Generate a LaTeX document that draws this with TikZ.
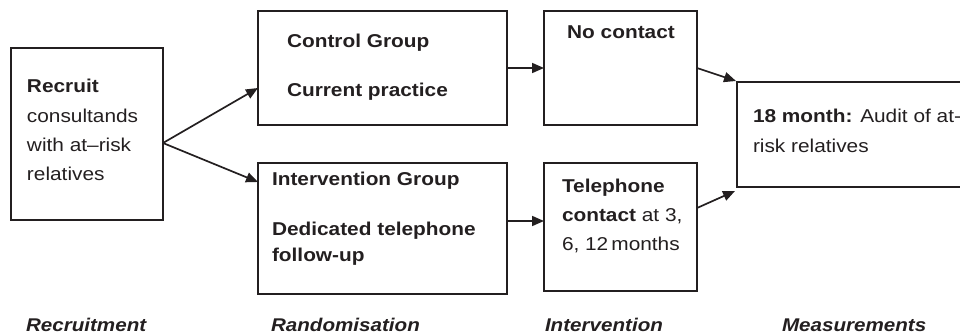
\documentclass[tikz,border=0pt]{standalone}
\usepackage{fontspec}
\setmainfont{Liberation Sans}[FakeStretch=1.12]
\usetikzlibrary{arrows.meta}
\definecolor{ink}{HTML}{231F20}
\begin{document}
\begin{tikzpicture}[x=1pt,y=-1pt,
  box/.style={draw=ink,line width=1.6pt,rectangle,inner sep=0pt,outer sep=0pt},
  txt/.style={anchor=base west,inner sep=0pt,outer sep=0pt,text=ink,
    font=\fontsize{18.6}{22}\selectfont},
  stage/.style={anchor=base west,inner sep=0pt,outer sep=0pt,text=ink,
    font=\fontsize{18.4}{22}\selectfont\bfseries\itshape},
  link/.style={draw=ink,line width=1.7pt,-{Triangle[length=12pt,width=10pt]}}]
\useasboundingbox (0,0) rectangle (960,334);

% boxes
\node[box,minimum width=152,minimum height=172] (recruit) at (87,134) {};
\node[box,minimum width=249,minimum height=114] (ctrl) at (382.5,68) {};
\node[box,minimum width=249,minimum height=131] (interv) at (382.5,228.5) {};
\node[box,minimum width=153,minimum height=114] (nocont) at (620.5,68) {};
\node[box,minimum width=153,minimum height=128] (phone) at (620.5,227) {};
\node[box,minimum width=240,minimum height=105] (audit) at (857,134.5) {};

% box texts
\node[txt] (r1) at (27,93) {\textbf{Recruit}};
\node[txt] (r2) at (27,122) {consultands};
\node[txt] (r3) at (27,151) {with at--risk};
\node[txt] (r4) at (27,180) {relatives};

\node[txt] (c1) at (287,48) {\textbf{Control Group}};
\node[txt] (c2) at (287,97) {\textbf{Current practice}};

\node[txt] (i1) at (272,185) {\textbf{Intervention Group}};
\node[txt] (i2) at (272,235) {\textbf{Dedicated telephone}};
\node[txt] (i3) at (272,261) {\textbf{follow-up}};

\node[txt,anchor=base] (n1) at (621,39) {\textbf{No contact}};

\node[txt] (t1) at (562,192) {\textbf{Telephone}};
\node[txt] (t2) at (562,221) {\textbf{contact} at 3,};
\node[txt] (t3) at (562,250) {6, 12\,months};

\node[txt] (a1) at (753,123) {\textbf{18 month:} Audit of at-};
\node[txt] (a2) at (753,152) {risk relatives};

% stage labels
\node[stage] (s1) at (26,331) {Recruitment};
\node[stage] (s2) at (271,331) {Randomisation};
\node[stage] (s3) at (545,331) {Intervention};
\node[stage] (s4) at (782,331) {Measurements};

% connector end points
\coordinate (split) at (163,143);
\coordinate (ctrlIn) at (258,88);
\coordinate (intIn) at (258,182);
\coordinate (intOut) at (507,221);
\coordinate (phoneIn) at (544,221);
\coordinate (ncOut) at (697,68);
\coordinate (auditTop) at (736,81);
\coordinate (phOut) at (697,208);
\coordinate (auditLow) at (735,191);

% connectors
\draw[link] (split) -- (ctrlIn);
\draw[link] (split) -- (intIn);
\draw[link] (ctrl.east) -- (nocont.west);
\draw[link] (intOut) -- (phoneIn);
\draw[link] (ncOut) -- (auditTop);
\draw[link] (phOut) -- (auditLow);
\end{tikzpicture}
\end{document}
